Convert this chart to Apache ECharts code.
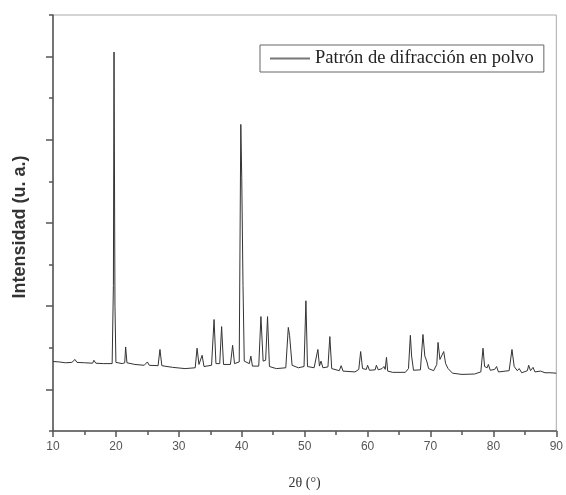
<!DOCTYPE html>
<html><head><meta charset="utf-8">
<script src="https://cdn.jsdelivr.net/npm/echarts@6/dist/echarts.min.js"></script>
<style>html,body{margin:0;padding:0;background:#fff}#c{width:566px;height:495px}</style>
</head><body><div id="c"></div>
<script>
const seriesName = "Patrón de difracción en polvo";
const xTicks = [10, 20, 30, 40, 50, 60, 70, 80, 90];
const twoTheta = [10.0,11.0,12.0,13.0,13.5,13.8,15.0,16.3,16.5,16.8,18.0,19.4,19.6,19.7,19.85,20.0,21.0,21.4,21.55,21.75,23.0,24.5,25.0,25.3,26.7,27.0,27.3,29.0,31.0,32.6,32.9,33.2,33.7,34.0,35.2,35.6,35.9,36.5,36.8,37.1,38.2,38.55,38.85,39.6,39.85,40.0,40.2,40.4,41.2,41.45,41.7,42.7,43.05,43.4,43.8,44.1,44.4,45.5,47.0,47.4,47.6,47.8,48.0,49.0,49.9,50.2,50.45,51.5,52.1,52.35,52.6,52.9,53.7,54.0,54.3,55.5,55.8,56.1,58.0,58.6,58.9,59.2,59.8,60.0,60.3,61.2,61.4,61.7,62.3,62.6,62.8,63.0,63.2,64.0,66.0,66.5,66.8,67.0,67.3,68.4,68.8,69.1,69.4,69.7,70.5,71.0,71.2,71.5,71.8,72.1,72.4,72.8,73.5,75.0,77.0,78.0,78.35,78.6,79.0,79.2,79.5,80.2,80.5,80.8,82.5,82.95,83.3,83.8,84.1,84.5,85.4,85.6,85.9,86.3,86.6,87.5,87.8,88.2,89.0,90.0];
const intensity = [1.67,1.66,1.64,1.65,1.72,1.65,1.64,1.63,1.70,1.63,1.62,1.62,3.5,9.11,3.0,1.65,1.62,1.64,2.02,1.64,1.60,1.58,1.66,1.58,1.57,1.96,1.57,1.53,1.50,1.52,1.99,1.60,1.82,1.55,1.58,2.68,1.62,1.62,2.51,1.60,1.60,2.06,1.62,1.66,7.37,6.1,3.5,1.68,1.62,1.80,1.56,1.56,2.75,1.68,1.70,2.75,1.55,1.50,1.52,2.49,2.30,2.27,1.58,1.52,1.55,3.13,1.55,1.52,1.96,1.56,1.68,1.52,1.54,2.27,1.50,1.45,1.57,1.44,1.42,1.48,1.91,1.50,1.48,1.58,1.46,1.47,1.58,1.47,1.50,1.55,1.48,1.77,1.44,1.41,1.41,1.50,2.30,1.80,1.46,1.47,2.32,1.80,1.68,1.50,1.45,1.60,2.13,1.72,1.75,1.91,1.62,1.50,1.39,1.36,1.37,1.42,1.99,1.55,1.52,1.60,1.46,1.48,1.55,1.42,1.45,1.96,1.55,1.45,1.50,1.40,1.45,1.58,1.45,1.53,1.42,1.44,1.48,1.40,1.40,1.39];
const yMajorTicks = [1, 3, 5, 7, 9];

const data = twoTheta.map((x, i) => [x, intensity[i]]);
const chart = echarts.init(document.getElementById('c'), null, {renderer: 'canvas'});
chart.setOption({
  animation: false,
  backgroundColor: '#fff',
  grid: {left: 53, right: 9, top: 15, bottom: 62, show: true, borderColor: '#aaa', borderWidth: 1},
  legend: {
    data: [seriesName], left: 260, top: 45, padding: [4, 10, 4, 10],
    borderColor: '#666', borderWidth: 1, icon: 'rect', itemWidth: 40, itemHeight: 2, itemGap: 8,
    itemStyle: {color: '#777'},
    textStyle: {fontFamily: 'Liberation Serif', fontSize: 18.5, color: '#222'}
  },
  xAxis: {
    type: 'value', min: 10, max: 90, interval: 10,
    name: '2θ (°)', nameLocation: 'middle', nameGap: 45,
    nameTextStyle: {fontFamily: 'Liberation Serif', fontSize: 14, color: '#333'},
    axisLine: {lineStyle: {color: '#555', width: 1.5}},
    axisTick: {length: 6, lineStyle: {color: '#555', width: 1.5}},
    minorTick: {show: true, splitNumber: 2, length: 4, lineStyle: {color: '#555', width: 1.5}},
    axisLabel: {margin: 10, fontFamily: 'Liberation Sans', fontSize: 12, color: '#555',
      customValues: xTicks},
    splitLine: {show: false}
  },
  yAxis: [{
    type: 'value', min: 0, max: 10, interval: 1, position: 'left',
    name: 'Intensidad (u. a.)', nameLocation: 'middle', nameGap: 24, nameRotate: 90,
    nameTextStyle: {fontFamily: 'Liberation Sans', fontSize: 18, fontWeight: 'bold', color: '#333',
      padding: [0, 8, 0, 0]},
    axisLine: {show: true, lineStyle: {color: '#555', width: 1.5}},
    axisTick: {show: true, length: 7, customValues: yMajorTicks, lineStyle: {color: '#555', width: 1.5}},
    axisLabel: {show: false},
    splitLine: {show: false}
  }, {
    type: 'value', min: 0, max: 10, interval: 1, position: 'left', offset: 0,
    axisLine: {show: false},
    axisTick: {show: true, length: 4, lineStyle: {color: '#555', width: 1.5}},
    axisLabel: {show: false},
    splitLine: {show: false}
  }],
  series: [{
    name: seriesName, type: 'line', data: data, showSymbol: false, symbol: 'none',
    lineStyle: {color: '#333', width: 1}, itemStyle: {color: '#777'}
  }]
});
</script></body></html>
